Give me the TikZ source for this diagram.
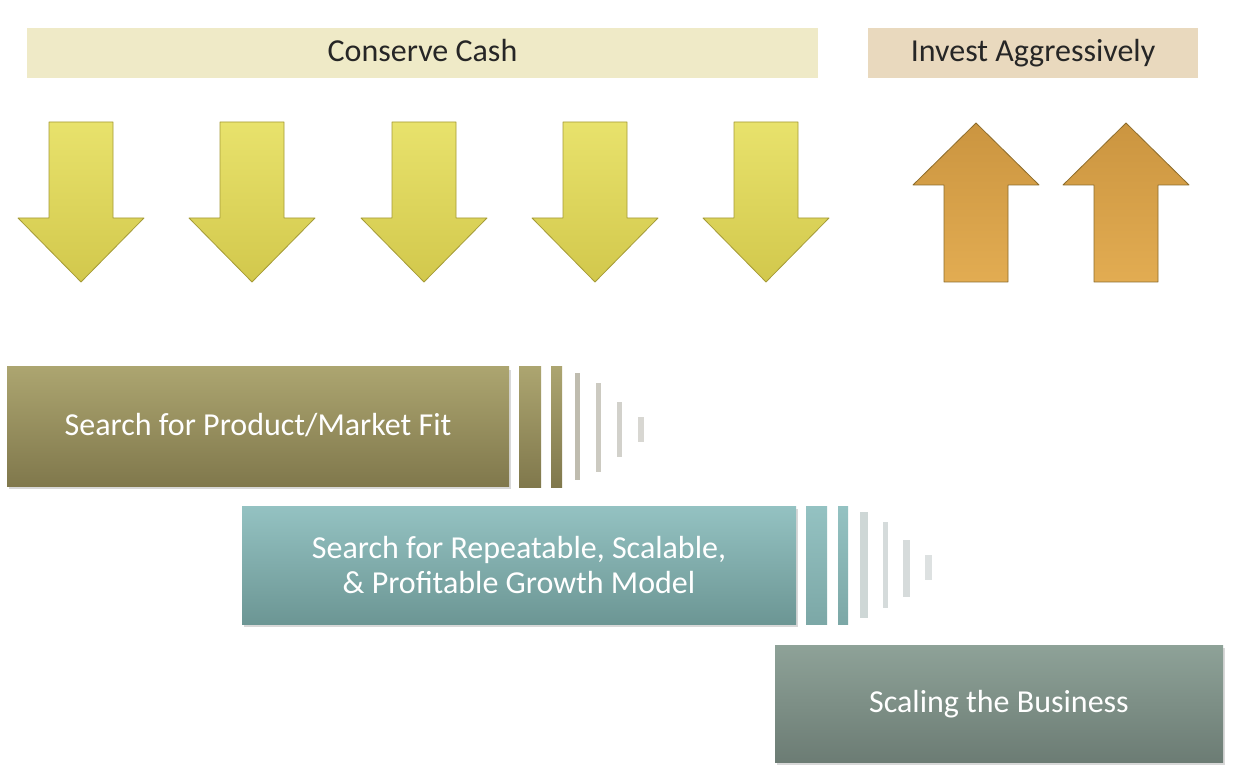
\documentclass[tikz,border=0pt]{standalone}
\usepackage{fontspec}
\setmainfont{Carlito}
\usetikzlibrary{shadows}

\definecolor{cashtan}{RGB}{239,234,199}
\definecolor{investtan}{RGB}{233,217,190}
\definecolor{downtop}{RGB}{232,226,108}
\definecolor{downbot}{RGB}{210,200,76}
\definecolor{downedge}{RGB}{165,155,55}
\definecolor{uptop}{RGB}{203,149,64}
\definecolor{upbot}{RGB}{226,172,82}
\definecolor{upedge}{RGB}{140,108,44}
\definecolor{fittop}{RGB}{172,165,112}
\definecolor{fitbot}{RGB}{128,120,76}
\definecolor{growtop}{RGB}{148,194,194}
\definecolor{growbot}{RGB}{108,150,148}
\definecolor{scaletop}{RGB}{142,162,152}
\definecolor{scalebot}{RGB}{108,124,116}

\begin{document}
\begin{tikzpicture}[x=1pt,y=-1pt,
  banner/.style={minimum height=50pt, inner sep=0pt,
    text height=23pt, text depth=5pt,
    font=\fontsize{32}{35}\selectfont, text=black!85},
  stage/.style={inner sep=0pt, text=white, align=center,
    font=\fontsize{32}{35}\selectfont,
    drop shadow={shadow xshift=2pt, shadow yshift=-3pt, opacity=0.3}},
  oneline/.style={text height=23pt, text depth=5pt},
  downarrow/.style={draw=downedge, line width=0.8pt, line join=round,
    top color=downtop, bottom color=downbot},
  uparrow/.style={draw=upedge, line width=0.8pt, line join=round,
    top color=uptop, bottom color=upbot}]
  \useasboundingbox [fill=white] (0,0) rectangle (1240,775);

  % headings
  \node [banner, fill=cashtan, minimum width=791pt] (cash) at (422.5,53) {Conserve Cash};
  \node [banner, fill=investtan, minimum width=330pt] (invest) at (1033,53) {Invest Aggressively};

  % cash arrows
  \draw [downarrow] (81,122) ++(-32,0) -- ++(64,0) -- ++(0,96) -- ++(31,0) -- ++(-63,64) -- ++(-63,-64) -- ++(31,0) -- cycle;
  \draw [downarrow] (252,122) ++(-32,0) -- ++(64,0) -- ++(0,96) -- ++(31,0) -- ++(-63,64) -- ++(-63,-64) -- ++(31,0) -- cycle;
  \draw [downarrow] (424,122) ++(-32,0) -- ++(64,0) -- ++(0,96) -- ++(31,0) -- ++(-63,64) -- ++(-63,-64) -- ++(31,0) -- cycle;
  \draw [downarrow] (595,122) ++(-32,0) -- ++(64,0) -- ++(0,96) -- ++(31,0) -- ++(-63,64) -- ++(-63,-64) -- ++(31,0) -- cycle;
  \draw [downarrow] (766,122) ++(-32,0) -- ++(64,0) -- ++(0,96) -- ++(31,0) -- ++(-63,64) -- ++(-63,-64) -- ++(31,0) -- cycle;

  % invest arrows
  \draw [uparrow] (976,282) ++(-32,0) -- ++(64,0) -- ++(0,-97) -- ++(31,0) -- ++(-63,-62) -- ++(-63,62) -- ++(31,0) -- cycle;
  \draw [uparrow] (1126,282) ++(-32,0) -- ++(64,0) -- ++(0,-97) -- ++(31,0) -- ++(-63,-62) -- ++(-63,62) -- ++(31,0) -- cycle;

  % stages
  \node [stage, oneline, top color=fittop, bottom color=fitbot, minimum width=502pt, minimum height=119pt] (fit) at (258,426.5) {Search for Product/Market Fit};
  \node [stage, top color=growtop, bottom color=growbot, minimum width=554pt, minimum height=118pt] (growth) at (519,565) {Search for Repeatable, Scalable,\\ \& Profitable Growth Model};
  \node [stage, oneline, top color=scaletop, bottom color=scalebot, minimum width=448pt, minimum height=117pt] (scale) at (999,703.5) {Scaling the Business};

  % fading strips after fit
  \fill [top color=fittop, bottom color=fitbot] (519,367) rectangle (541,487);
  \fill [top color=fittop, bottom color=fitbot] (551,367) rectangle (562,487);
  \fill [fitbot!60!gray, opacity=0.5] (575,373) rectangle (580,480);
  \fill [fitbot!50!gray, opacity=0.4] (596,383) rectangle (601,472);
  \fill [fitbot!40!gray, opacity=0.35] (617,402) rectangle (622,457);
  \fill [fitbot!40!gray, opacity=0.3] (638,417) rectangle (644,442);

  % fading strips after growth
  \fill [top color=growtop, bottom color=growbot!60!growtop] (806,506) rectangle (827,624);
  \fill [top color=growtop, bottom color=growbot!60!growtop] (838,506) rectangle (848,624);
  \fill [growbot!60!gray, opacity=0.35] (860,512) rectangle (868,618);
  \fill [growbot!50!gray, opacity=0.3] (883,522) rectangle (888,608);
  \fill [growbot!40!gray, opacity=0.3] (903,540) rectangle (910,597);
  \fill [growbot!40!gray, opacity=0.25] (925,555) rectangle (932,580);
\end{tikzpicture}
\end{document}
